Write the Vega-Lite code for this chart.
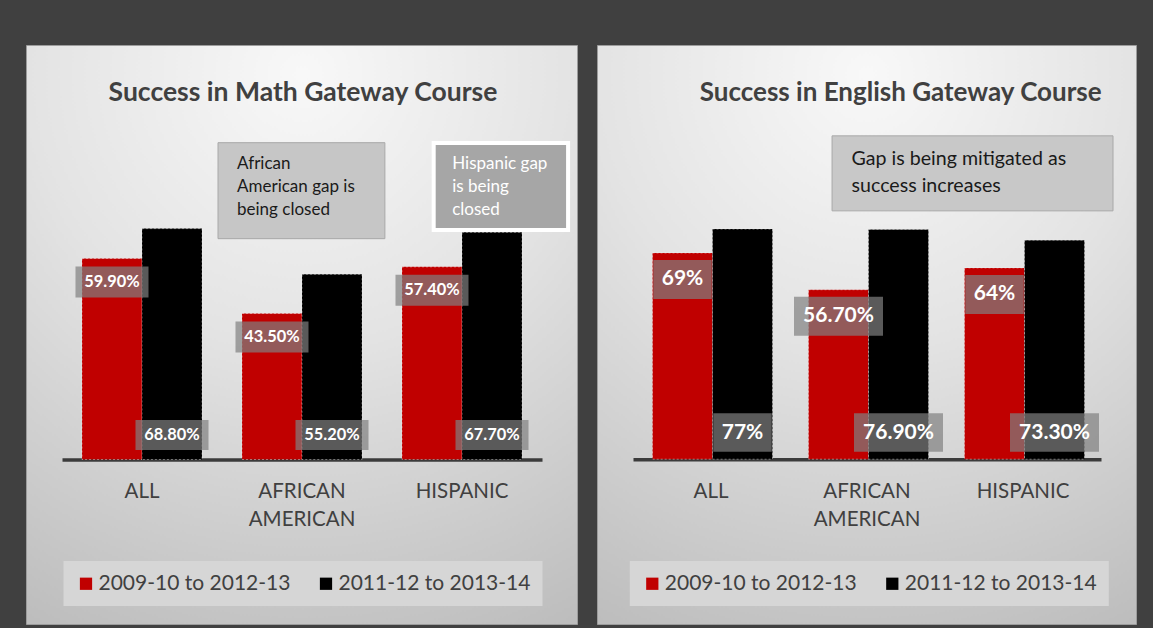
{
  "$schema": "https://vega.github.io/schema/vega-lite/v6.json",
  "background": "#404040",
  "padding": {"left": 25, "top": 44, "right": 17, "bottom": 5},
  "spacing": 18,
  "config": {"font": "Lato", "view": {"stroke": null}},
  "datasets": {
    "math": [
      {"group": "ALL", "period": "2009-10 to 2012-13", "value": 59.9, "label": "59.90%"},
      {"group": "ALL", "period": "2011-12 to 2013-14", "value": 68.8, "label": "68.80%"},
      {"group": "AFRICAN AMERICAN", "period": "2009-10 to 2012-13", "value": 43.5, "label": "43.50%"},
      {"group": "AFRICAN AMERICAN", "period": "2011-12 to 2013-14", "value": 55.2, "label": "55.20%"},
      {"group": "HISPANIC", "period": "2009-10 to 2012-13", "value": 57.4, "label": "57.40%"},
      {"group": "HISPANIC", "period": "2011-12 to 2013-14", "value": 67.7, "label": "67.70%"}
    ],
    "english": [
      {"group": "ALL", "period": "2009-10 to 2012-13", "value": 69, "label": "69%"},
      {"group": "ALL", "period": "2011-12 to 2013-14", "value": 77, "label": "77%"},
      {"group": "AFRICAN AMERICAN", "period": "2009-10 to 2012-13", "value": 56.7, "label": "56.70%"},
      {"group": "AFRICAN AMERICAN", "period": "2011-12 to 2013-14", "value": 76.9, "label": "76.90%"},
      {"group": "HISPANIC", "period": "2009-10 to 2012-13", "value": 64, "label": "64%"},
      {"group": "HISPANIC", "period": "2011-12 to 2013-14", "value": 73.3, "label": "73.30%"}
    ]
  },
  "resolve": {"scale": {"color": "independent"}, "legend": {"color": "independent"}},
  "hconcat": [
    {
      "width": 551,
      "height": 579,
      "view": {
        "fill": {"gradient": "radial", "x1": 0.5, "y1": 0.05, "r1": 0, "x2": 0.5, "y2": 0.05, "r2": 1.05,
          "stops": [{"offset": 0, "color": "#f8f8f8"}, {"offset": 0.45, "color": "#e3e3e3"}, {"offset": 1, "color": "#bdbdbd"}]},
        "stroke": "#9c9c9c",
        "strokeWidth": 1
      },
      "resolve": {"scale": {"x": "independent"}},
      "layer": [
        {
          "data": {"name": "math"},
          "layer": [
            {
              "mark": {"type": "bar", "stroke": "#ffffff", "strokeWidth": 0.8, "strokeDash": [2, 2], "strokeOpacity": 0.5},
              "encoding": {
                "x": {"field": "group", "type": "nominal", "sort": ["ALL", "AFRICAN AMERICAN", "HISPANIC"],
                  "scale": {"range": [36, 516], "paddingInner": 0.25, "paddingOuter": 0.125},
                  "axis": {"orient": "bottom", "offset": -164.5, "title": null, "labelAngle": 0, "labelFontSize": 20.5, "labelFont": "Lato", "labelColor": "#404040", "labelPadding": 22, "labelLineHeight": 28.3, "labelExpr": "split(datum.label, ' ')", "ticks": false, "domain": true, "domainColor": "#3b3b3b", "domainWidth": 3.5, "grid": false, "labelBaseline": "top"}},
                "xOffset": {"field": "period", "type": "nominal", "scale": {"domain": ["2009-10 to 2012-13", "2011-12 to 2013-14"]}},
                "y": {"field": "value", "type": "quantitative", "scale": {"domain": [-49.0, 123.5], "nice": false, "zero": false},
                  "axis": {"values": [10, 20, 30, 40, 50, 60, 70, 80], "grid": true, "gridColor": "#bcbcbc", "gridWidth": 2, "labels": false, "ticks": false, "domain": false, "title": null}},
                "color": {"field": "period", "type": "nominal",
                  "scale": {"domain": ["2009-10 to 2012-13", "2011-12 to 2013-14"], "range": ["#C00000", "#000000"]},
                  "legend": {"orient": "none", "legendX": 37.5, "legendY": 516, "direction": "horizontal", "title": null, "fillColor": "#d6d6d6", "padding": 12, "symbolType": "square", "symbolSize": 150, "symbolStrokeWidth": 0, "labelFontSize": 21, "labelFont": "Lato", "labelColor": "#404040", "labelLimit": 300, "columnPadding": 25, "labelOffset": 2}}
              }
            },
            {
              "transform": [{"filter": "datum.period === '2009-10 to 2012-13'"}],
              "mark": {"type": "bar", "width": 73, "color": "#808080", "opacity": 0.7, "yOffset": 8, "y2Offset": 39},
              "encoding": {
                "x": {"field": "group", "type": "nominal", "sort": ["ALL", "AFRICAN AMERICAN", "HISPANIC"]},
                "xOffset": {"field": "period", "type": "nominal", "scale": {"domain": ["2009-10 to 2012-13", "2011-12 to 2013-14"]}},
                "y": {"field": "value", "type": "quantitative"},
                "y2": {"field": "value"}
              }
            },
            {
              "transform": [{"filter": "datum.period === '2011-12 to 2013-14'"}],
              "mark": {"type": "bar", "width": 73, "color": "#808080", "opacity": 0.7, "yOffset": -9.5, "y2Offset": -39.5},
              "encoding": {
                "x": {"field": "group", "type": "nominal", "sort": ["ALL", "AFRICAN AMERICAN", "HISPANIC"]},
                "xOffset": {"field": "period", "type": "nominal", "scale": {"domain": ["2009-10 to 2012-13", "2011-12 to 2013-14"]}},
                "y": {"datum": 0, "type": "quantitative"},
                "y2": {"datum": 0}
              }
            },
            {
              "transform": [{"filter": "datum.period === '2009-10 to 2012-13'"}],
              "mark": {"type": "text", "dy": 23.5, "baseline": "middle", "align": "center", "font": "Lato", "fontWeight": "bold", "fontSize": 16.4, "color": "#ffffff"},
              "encoding": {
                "x": {"field": "group", "type": "nominal", "sort": ["ALL", "AFRICAN AMERICAN", "HISPANIC"]},
                "xOffset": {"field": "period", "type": "nominal", "scale": {"domain": ["2009-10 to 2012-13", "2011-12 to 2013-14"]}},
                "y": {"field": "value", "type": "quantitative"},
                "text": {"field": "label"}
              }
            },
            {
              "transform": [{"filter": "datum.period === '2011-12 to 2013-14'"}],
              "mark": {"type": "text", "dy": -24.5, "baseline": "middle", "align": "center", "font": "Lato", "fontWeight": "bold", "fontSize": 16.4, "color": "#ffffff"},
              "encoding": {
                "x": {"field": "group", "type": "nominal", "sort": ["ALL", "AFRICAN AMERICAN", "HISPANIC"]},
                "xOffset": {"field": "period", "type": "nominal", "scale": {"domain": ["2009-10 to 2012-13", "2011-12 to 2013-14"]}},
                "y": {"datum": 0, "type": "quantitative"},
                "text": {"field": "label"}
              }
            }
          ]
        },
        {
          "data": {"values": [{"title": "Success in Math Gateway Course"}]},
          "mark": {"type": "text", "font": "Lato", "fontWeight": "bold", "fontSize": 26.5, "color": "#404040", "align": "center", "baseline": "alphabetic"},
          "encoding": {
            "x": {"datum": 1.506, "type": "quantitative", "scale": {"domain": [0, 3], "range": [36, 516], "nice": false, "zero": false}, "axis": null},
            "y": {"datum": 106.8, "type": "quantitative", "scale": {"domain": [-49.0, 123.5], "nice": false, "zero": false}, "axis": null},
            "text": {"field": "title"}
          }
        },
        {
          "data": {"values": [{"note": "African\nAmerican gap is\nbeing closed"}]},
          "layer": [
            {
              "mark": {"type": "rect", "fill": "#c6c6c6", "stroke": "#a8a8a8", "strokeWidth": 1},
              "encoding": {
                "x": {"datum": 0.975, "type": "quantitative", "scale": {"domain": [0, 3], "range": [36, 516], "nice": false, "zero": false}, "axis": null},
                "x2": {"datum": 2.018},
                "y": {"datum": 94.4, "type": "quantitative", "scale": {"domain": [-49.0, 123.5], "nice": false, "zero": false}, "axis": null},
                "y2": {"datum": 65.8}
              }
            },
            {
              "mark": {"type": "text", "font": "Lato", "fontSize": 17, "color": "#1a1a1a", "align": "left", "baseline": "middle", "lineBreak": "\n", "lineHeight": 23.2},
              "encoding": {
                "x": {"datum": 1.094, "type": "quantitative", "scale": {"domain": [0, 3], "range": [36, 516], "nice": false, "zero": false}, "axis": null},
                "y": {"datum": 88.05, "type": "quantitative", "scale": {"domain": [-49.0, 123.5], "nice": false, "zero": false}, "axis": null},
                "text": {"field": "note"}
              }
            }
          ]
        },
        {
          "data": {"values": [{"note": "Hispanic gap\nis being\nclosed"}]},
          "layer": [
            {
              "mark": {"type": "rect", "fill": "#a6a6a6", "stroke": "#ffffff", "strokeWidth": 4},
              "encoding": {
                "x": {"datum": 2.323, "type": "quantitative", "scale": {"domain": [0, 3], "range": [36, 516], "nice": false, "zero": false}, "axis": null},
                "x2": {"datum": 3.163},
                "y": {"datum": 94.3, "type": "quantitative", "scale": {"domain": [-49.0, 123.5], "nice": false, "zero": false}, "axis": null},
                "y2": {"datum": 68.4}
              }
            },
            {
              "mark": {"type": "text", "font": "Lato", "fontSize": 17, "color": "#ffffff", "align": "left", "baseline": "middle", "lineBreak": "\n", "lineHeight": 23.2},
              "encoding": {
                "x": {"datum": 2.439, "type": "quantitative", "scale": {"domain": [0, 3], "range": [36, 516], "nice": false, "zero": false}, "axis": null},
                "y": {"datum": 88.05, "type": "quantitative", "scale": {"domain": [-49.0, 123.5], "nice": false, "zero": false}, "axis": null},
                "text": {"field": "note"}
              }
            }
          ]
        }
      ]
    },
    {
      "width": 539,
      "height": 579,
      "view": {
        "fill": {"gradient": "radial", "x1": 0.5, "y1": 0.05, "r1": 0, "x2": 0.5, "y2": 0.05, "r2": 1.05,
          "stops": [{"offset": 0, "color": "#f8f8f8"}, {"offset": 0.45, "color": "#e3e3e3"}, {"offset": 1, "color": "#bdbdbd"}]},
        "stroke": "#9c9c9c",
        "strokeWidth": 1
      },
      "resolve": {"scale": {"x": "independent"}},
      "layer": [
        {
          "data": {"name": "english"},
          "layer": [
            {
              "mark": {"type": "bar", "stroke": "#ffffff", "strokeWidth": 0.8, "strokeDash": [2, 2], "strokeOpacity": 0.5},
              "encoding": {
                "x": {"field": "group", "type": "nominal", "sort": ["ALL", "AFRICAN AMERICAN", "HISPANIC"],
                  "scale": {"range": [36, 504], "paddingInner": 0.25, "paddingOuter": 0.125},
                  "axis": {"orient": "bottom", "offset": -164.8, "title": null, "labelAngle": 0, "labelFontSize": 20.5, "labelFont": "Lato", "labelColor": "#404040", "labelPadding": 22, "labelLineHeight": 28.3, "labelExpr": "split(datum.label, ' ')", "ticks": false, "domain": true, "domainColor": "#3b3b3b", "domainWidth": 3.5, "grid": false, "labelBaseline": "top"}},
                "xOffset": {"field": "period", "type": "nominal", "scale": {"domain": ["2009-10 to 2012-13", "2011-12 to 2013-14"]}},
                "y": {"field": "value", "type": "quantitative", "scale": {"domain": [-55.15, 138.6], "nice": false, "zero": false},
                  "axis": {"values": [10, 20, 30, 40, 50, 60, 70, 80, 90], "grid": true, "gridColor": "#bcbcbc", "gridWidth": 2, "labels": false, "ticks": false, "domain": false, "title": null}},
                "color": {"field": "period", "type": "nominal",
                  "scale": {"domain": ["2009-10 to 2012-13", "2011-12 to 2013-14"], "range": ["#C00000", "#000000"]},
                  "legend": {"orient": "none", "legendX": 32.8, "legendY": 516, "direction": "horizontal", "title": null, "fillColor": "#d6d6d6", "padding": 12, "symbolType": "square", "symbolSize": 150, "symbolStrokeWidth": 0, "labelFontSize": 21, "labelFont": "Lato", "labelColor": "#404040", "labelLimit": 300, "columnPadding": 25, "labelOffset": 2}}
              }
            },
            {
              "transform": [{"filter": "datum.period === '2009-10 to 2012-13' && length(datum.label) > 4"}],
              "mark": {"type": "bar", "width": 89, "color": "#808080", "opacity": 0.7, "yOffset": 7, "y2Offset": 46},
              "encoding": {
                "x": {"field": "group", "type": "nominal", "sort": ["ALL", "AFRICAN AMERICAN", "HISPANIC"]},
                "xOffset": {"field": "period", "type": "nominal", "scale": {"domain": ["2009-10 to 2012-13", "2011-12 to 2013-14"]}},
                "y": {"field": "value", "type": "quantitative"},
                "y2": {"field": "value"}
              }
            },
            {
              "transform": [{"filter": "datum.period === '2009-10 to 2012-13' && length(datum.label) <= 4"}],
              "mark": {"type": "bar", "width": 58.5, "color": "#808080", "opacity": 0.7, "yOffset": 7, "y2Offset": 46},
              "encoding": {
                "x": {"field": "group", "type": "nominal", "sort": ["ALL", "AFRICAN AMERICAN", "HISPANIC"]},
                "xOffset": {"field": "period", "type": "nominal", "scale": {"domain": ["2009-10 to 2012-13", "2011-12 to 2013-14"]}},
                "y": {"field": "value", "type": "quantitative"},
                "y2": {"field": "value"}
              }
            },
            {
              "transform": [{"filter": "datum.period === '2011-12 to 2013-14' && length(datum.label) > 4"}],
              "mark": {"type": "bar", "width": 89, "color": "#808080", "opacity": 0.7, "yOffset": -7.5, "y2Offset": -46},
              "encoding": {
                "x": {"field": "group", "type": "nominal", "sort": ["ALL", "AFRICAN AMERICAN", "HISPANIC"]},
                "xOffset": {"field": "period", "type": "nominal", "scale": {"domain": ["2009-10 to 2012-13", "2011-12 to 2013-14"]}},
                "y": {"datum": 0, "type": "quantitative"},
                "y2": {"datum": 0}
              }
            },
            {
              "transform": [{"filter": "datum.period === '2011-12 to 2013-14' && length(datum.label) <= 4"}],
              "mark": {"type": "bar", "width": 58.5, "color": "#808080", "opacity": 0.7, "yOffset": -7.5, "y2Offset": -46},
              "encoding": {
                "x": {"field": "group", "type": "nominal", "sort": ["ALL", "AFRICAN AMERICAN", "HISPANIC"]},
                "xOffset": {"field": "period", "type": "nominal", "scale": {"domain": ["2009-10 to 2012-13", "2011-12 to 2013-14"]}},
                "y": {"datum": 0, "type": "quantitative"},
                "y2": {"datum": 0}
              }
            },
            {
              "transform": [{"filter": "datum.period === '2009-10 to 2012-13'"}],
              "mark": {"type": "text", "dy": 26.5, "baseline": "middle", "align": "center", "font": "Lato", "fontWeight": "bold", "fontSize": 21, "color": "#ffffff"},
              "encoding": {
                "x": {"field": "group", "type": "nominal", "sort": ["ALL", "AFRICAN AMERICAN", "HISPANIC"]},
                "xOffset": {"field": "period", "type": "nominal", "scale": {"domain": ["2009-10 to 2012-13", "2011-12 to 2013-14"]}},
                "y": {"field": "value", "type": "quantitative"},
                "text": {"field": "label"}
              }
            },
            {
              "transform": [{"filter": "datum.period === '2011-12 to 2013-14'"}],
              "mark": {"type": "text", "dy": -26.5, "baseline": "middle", "align": "center", "font": "Lato", "fontWeight": "bold", "fontSize": 21, "color": "#ffffff"},
              "encoding": {
                "x": {"field": "group", "type": "nominal", "sort": ["ALL", "AFRICAN AMERICAN", "HISPANIC"]},
                "xOffset": {"field": "period", "type": "nominal", "scale": {"domain": ["2009-10 to 2012-13", "2011-12 to 2013-14"]}},
                "y": {"datum": 0, "type": "quantitative"},
                "text": {"field": "label"}
              }
            }
          ]
        },
        {
          "data": {"values": [{"title": "Success in English Gateway Course"}]},
          "mark": {"type": "text", "font": "Lato", "fontWeight": "bold", "fontSize": 26, "color": "#404040", "align": "center", "baseline": "alphabetic"},
          "encoding": {
            "x": {"datum": 1.716, "type": "quantitative", "scale": {"domain": [0, 3], "range": [36, 504], "nice": false, "zero": false}, "axis": null},
            "y": {"datum": 119.9, "type": "quantitative", "scale": {"domain": [-55.15, 138.6], "nice": false, "zero": false}, "axis": null},
            "text": {"field": "title"}
          }
        },
        {
          "data": {"values": [{"note": "Gap is being mitigated as\nsuccess increases"}]},
          "layer": [
            {
              "mark": {"type": "rect", "fill": "#c8c8c8", "stroke": "#a8a8a8", "strokeWidth": 1},
              "encoding": {
                "x": {"datum": 1.276, "type": "quantitative", "scale": {"domain": [0, 3], "range": [36, 504], "nice": false, "zero": false}, "axis": null},
                "x2": {"datum": 3.077},
                "y": {"datum": 108.2, "type": "quantitative", "scale": {"domain": [-55.15, 138.6], "nice": false, "zero": false}, "axis": null},
                "y2": {"datum": 83.1}
              }
            },
            {
              "mark": {"type": "text", "font": "Lato", "fontSize": 19.6, "color": "#1a1a1a", "align": "left", "baseline": "middle", "lineBreak": "\n", "lineHeight": 26.7},
              "encoding": {
                "x": {"datum": 1.401, "type": "quantitative", "scale": {"domain": [0, 3], "range": [36, 504], "nice": false, "zero": false}, "axis": null},
                "y": {"datum": 100.4, "type": "quantitative", "scale": {"domain": [-55.15, 138.6], "nice": false, "zero": false}, "axis": null},
                "text": {"field": "note"}
              }
            }
          ]
        }
      ]
    }
  ]
}
